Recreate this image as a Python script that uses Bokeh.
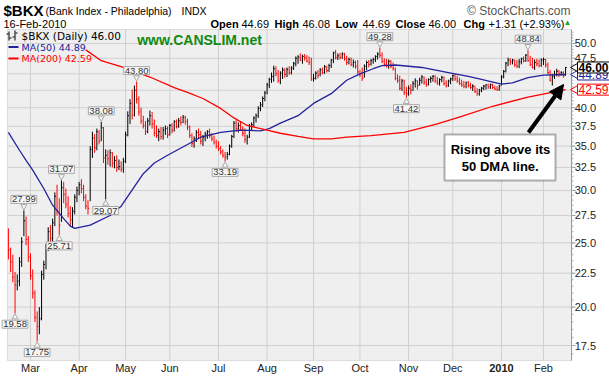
import math
from bokeh.plotting import figure
from bokeh.models import Range1d, Label, Arrow, NormalHead, BoxAnnotation, ColumnDataSource
from bokeh.core.properties import value
from bokeh.embed import file_html
from bokeh.resources import INLINE

# ---------------- data ----------------
# daily bars, 13-Feb-2009 .. 16-Feb-2010 (trading-day index)
highs = [
    26.3, 24.6, 24.0, 22.6, 22.4, 23.8, 25.5, 27.99, 27.4, 25.6,  # Feb
    24.1, 22.8, 21.2, 19.7, 20.0, 22.7, 23.5, 24.9, 26.4, 26.6, 27.2, 29.8, 30.6, 29.2, 31.07, 30.9, 30.2, 29.4, 28.4, 28.3, 29.6, 30.4,  # Mar
    30.9, 31.2, 30.6, 29.6, 29.0, 35.0, 36.8, 36.5, 37.2, 37.0, 38.08, 37.4, 34.6, 34.5, 34.6, 34.3, 33.8, 33.9, 33.4, 33.2, 33.6,  # Apr
    36.8, 39.5, 41.2, 42.6, 43.2, 43.80, 41.6, 40.0, 38.9, 38.2, 38.6, 39.6, 39.4, 38.4, 37.6, 37.2, 37.4, 37.4, 37.6, 37.5,  # May
    37.8, 37.9, 38.3, 38.4, 38.6, 38.8, 39.0, 38.9, 38.5, 37.6, 36.6, 36.2, 37.0, 37.2, 36.9, 36.4, 36.8, 37.0, 37.2, 36.6, 36.3, 35.8,  # Jun
    35.6, 35.0, 34.6, 34.3, 34.3, 35.2, 36.4, 38.2, 38.3, 38.0, 38.2, 37.5, 37.2, 36.4, 37.8, 38.0, 38.8, 39.2, 40.2, 40.8, 41.6, 42.4,  # Jul
    43.6, 44.4, 45.2, 46.3, 46.2, 45.6, 45.4, 46.0, 45.9, 46.0, 46.2, 46.2, 46.9, 47.8, 48.0, 48.3, 48.1, 48.2, 48.0, 47.8, 47.6,  # Aug
    45.0, 45.4, 45.6, 45.9, 46.0, 46.4, 46.3, 46.6, 47.4, 48.6, 48.9, 48.3, 48.4, 48.5, 48.4, 47.9, 47.6, 47.6, 47.3, 47.1, 47.2,  # Sep
    45.6, 46.0, 46.5, 47.1, 47.2, 47.4, 47.6, 48.0, 48.5, 49.28, 48.5, 47.5, 47.4, 47.3, 47.2, 46.8, 46.0, 44.9, 44.7, 44.2, 44.1, 43.0,  # Oct
    43.2, 43.4, 43.9, 44.3, 44.0, 44.4, 44.8, 44.6, 44.2, 44.3, 44.6, 44.8, 44.8, 44.5, 44.3, 44.7, 44.6, 44.0, 44.1, 44.4,  # Nov
    44.9, 45.0, 44.7, 44.4, 44.1, 43.9, 43.8, 43.9, 43.6, 43.4, 43.2, 42.8, 42.7, 43.0, 43.3, 43.4, 43.5, 43.5, 43.5, 43.2, 43.1, 43.3,  # Dec
    44.8, 45.6, 46.9, 47.6, 47.5, 47.4, 47.3, 47.2, 47.4, 47.6, 47.8, 48.2, 48.84, 47.9, 47.6, 47.3, 47.4, 47.3, 47.5,  # Jan
    47.6, 47.4, 46.8, 45.6, 45.0, 45.5, 45.8, 45.6, 45.4, 45.4, 46.08,  # Feb
]
lows = [
    23.6, 22.6, 21.8, 19.58, 21.2, 21.5, 23.0, 25.6, 24.8, 23.4,
    22.0, 20.6, 19.0, 17.75, 18.2, 19.1, 22.0, 22.8, 24.3, 25.0, 25.0, 26.5, 27.5, 25.71, 26.9, 28.7, 28.2, 27.3, 26.5, 26.4, 27.6, 28.8,
    29.5, 29.7, 28.9, 28.1, 27.6, 28.9, 33.6, 34.2, 34.5, 35.2, 35.6, 33.0, 29.07, 32.8, 32.6, 32.5, 32.4, 32.0, 32.2, 32.0, 31.9,
    33.0, 36.2, 37.8, 38.4, 38.8, 40.6, 38.9, 37.8, 37.2, 36.4, 36.6, 37.6, 37.2, 36.2, 36.0, 35.6, 35.8, 35.8, 36.4, 36.0,
    36.3, 36.6, 36.8, 37.2, 37.3, 37.6, 37.9, 37.7, 37.0, 36.0, 34.9, 34.8, 35.5, 35.9, 35.2, 35.0, 35.6, 35.9, 36.0, 35.6, 35.2, 34.7,
    34.4, 34.0, 33.6, 33.19, 33.4, 33.9, 34.8, 36.0, 36.8, 36.7, 36.9, 36.2, 35.4, 35.2, 36.0, 36.9, 37.4, 38.0, 38.6, 39.5, 40.1, 40.9,
    41.9, 42.8, 43.6, 43.8, 44.6, 43.6, 43.4, 44.2, 44.4, 44.5, 44.8, 44.9, 45.6, 46.2, 46.6, 47.0, 46.6, 47.1, 46.8, 46.4, 43.9,
    43.8, 44.1, 44.3, 44.6, 44.9, 45.0, 45.2, 45.3, 45.9, 46.7, 47.3, 47.2, 47.3, 47.4, 47.1, 46.4, 46.5, 46.2, 46.0, 45.8, 44.9,
    44.5, 43.9, 44.4, 45.6, 46.0, 46.3, 46.6, 46.9, 47.3, 47.6, 46.7, 46.2, 46.0, 45.8, 45.9, 45.5, 44.0, 43.6, 42.5, 42.4, 41.8, 41.42,
    41.7, 41.9, 42.4, 42.9, 42.6, 43.2, 43.5, 43.3, 43.0, 43.2, 43.6, 43.8, 43.6, 43.3, 43.2, 43.7, 43.2, 42.9, 43.0, 43.4,
    43.9, 43.9, 43.6, 43.3, 43.0, 42.8, 42.8, 42.9, 42.7, 42.4, 42.1, 41.7, 41.7, 42.2, 42.5, 42.6, 42.7, 42.7, 42.7, 42.5, 42.4, 42.4,
    43.2, 44.3, 45.2, 46.2, 46.4, 46.5, 46.1, 45.9, 45.9, 46.5, 46.8, 46.9, 46.9, 46.2, 45.8, 45.6, 46.2, 46.0, 46.1,
    46.4, 46.0, 44.9, 43.8, 43.2, 44.2, 44.6, 44.5, 44.7, 44.4, 44.69,
]
closes = [
    24.4, 23.4, 22.2, 21.6, 21.9, 23.4, 25.1, 27.0, 25.3, 23.8,
    22.3, 21.0, 19.3, 18.7, 19.2, 22.4, 23.2, 24.6, 26.0, 25.4, 26.8, 29.4, 27.9, 26.6, 30.3, 29.6, 28.6, 27.7, 27.1, 27.9, 29.3, 30.0,
    30.6, 30.2, 29.3, 28.4, 28.2, 34.6, 36.0, 34.8, 36.8, 35.6, 37.3, 33.6, 33.9, 33.5, 34.2, 33.0, 33.3, 32.5, 32.6, 32.3, 33.2,
    36.4, 38.9, 40.6, 39.0, 42.5, 41.2, 39.4, 38.2, 37.6, 36.8, 38.2, 38.9, 37.8, 36.6, 36.3, 36.8, 36.2, 37.0, 37.2, 36.4,
    37.6, 37.0, 38.1, 37.5, 38.2, 38.0, 38.7, 38.1, 37.4, 36.3, 35.3, 35.9, 36.7, 36.4, 35.6, 36.1, 36.5, 36.8, 36.3, 35.9, 35.5, 35.0,
    34.7, 34.3, 33.9, 33.7, 34.0, 35.0, 36.2, 37.9, 37.2, 37.6, 37.0, 36.6, 35.8, 36.1, 37.5, 37.7, 38.6, 38.9, 39.9, 40.4, 41.3, 42.1,
    43.3, 44.1, 44.6, 45.8, 45.0, 44.0, 45.1, 45.6, 44.9, 45.7, 45.2, 45.9, 46.6, 47.5, 47.7, 47.2, 47.8, 47.6, 47.0, 46.8, 44.2,
    44.3, 45.1, 44.8, 45.6, 45.2, 46.1, 45.5, 46.3, 47.2, 48.4, 47.6, 47.9, 47.6, 48.2, 47.4, 46.8, 47.3, 46.5, 46.8, 46.2, 45.3,
    45.0, 44.3, 46.2, 46.8, 46.5, 47.1, 47.3, 47.8, 48.2, 48.0, 47.0, 46.5, 46.3, 47.0, 46.2, 45.8, 44.3, 44.0, 42.8, 43.9, 42.2, 42.0,
    42.8, 42.5, 43.5, 43.9, 43.2, 44.0, 44.5, 43.7, 43.4, 44.1, 44.3, 44.6, 43.9, 43.6, 44.1, 44.4, 43.5, 43.2, 43.9, 44.2,
    44.7, 44.2, 43.9, 43.5, 43.3, 43.1, 43.6, 43.2, 42.9, 43.1, 42.3, 42.0, 42.5, 42.8, 43.1, 43.3, 43.0, 43.3, 42.9, 42.7, 42.6, 43.1,
    44.5, 45.4, 46.7, 47.2, 46.9, 47.2, 46.4, 46.2, 46.9, 47.4, 47.1, 48.0, 47.1, 46.5, 46.0, 46.8, 46.6, 46.3, 47.2,
    47.3, 46.4, 45.2, 44.0, 44.6, 44.9, 45.4, 45.0, 45.2, 44.69, 46.00,
]

ma50_x = [0, 5, 8, 11, 16, 20, 25, 28, 30, 37, 46, 51, 57, 61, 66, 72, 81, 87, 96, 105,
          114, 118, 123, 131, 138, 146, 153, 159, 165, 169, 175, 187, 199, 208, 213, 223, 228, 235, 242, 252]
ma50_v = [36.7, 34.5, 33.3, 32.2, 30.2, 28.5, 27.2, 26.5, 26.3, 26.6, 27.5, 28.4, 30.4, 31.8, 33.0, 33.9, 35.2, 36.1, 36.7, 37.0,
          36.9, 37.2, 37.9, 38.9, 40.6, 42.0, 44.0, 45.0, 45.8, 46.3, 46.4, 46.0, 45.2, 44.6, 44.2, 43.4, 43.6, 44.4, 44.8, 44.89]
ma200_x = [35, 42, 52, 64, 75, 81, 88, 96, 102, 108, 117, 123, 131, 138, 146, 153, 164, 179, 194, 205, 219, 235, 252]
ma200_v = [48.9, 47.1, 46.0, 44.5, 42.9, 42.2, 41.3, 39.9, 38.6, 37.6, 37.0, 36.6, 36.2, 35.9, 35.9, 36.1, 36.3, 36.7,
           37.8, 38.8, 40.2, 41.5, 42.59]

month_ticks = [10, 32, 53, 73, 95, 117, 138, 159, 181, 201, 223, 242]
month_names = ["Mar", "Apr", "May", "Jun", "Jul", "Aug", "Sep", "Oct", "Nov", "Dec", "2010", "Feb"]
y_ticks = [17.5, 20.0, 22.5, 25.0, 27.5, 30.0, 32.5, 35.0, 37.5, 40.0, 42.5, 45.0, 47.5, 50.0]
y_minor = [v / 2 for v in range(34, 105)]

# marked extremes: (bar index, "H" high / "L" low)
marks = [(7, "H"), (3, "L"), (13, "L"), (23, "L"), (24, "H"), (42, "H"), (44, "L"),
         (58, "H"), (98, "L"), (168, "H"), (180, "L"), (235, "H")]

# ---------------- layout constants ----------------
FONT = "Liberation Sans"
W, H = 609, 376
X0, X1 = -3.573, 271.87           # data x at canvas left/right
Y0, Y1 = 15.713, 58.06            # data y at canvas bottom/top (log)
PL, PR, PB, PT = -0.41, 254.7, 16.61, 52.49   # price panel edges
K = 287.7                          # px per ln unit

def ypx(yc):
    """data y for a canvas pixel row"""
    return 50.0 * math.exp(-(yc - 43) / K)

n = len(closes)
idx = list(range(n))
colors = ["#FF0000" if (i == 0 or closes[i] < closes[i - 1]) else "#000000" for i in idx]

p = figure(width=W, height=H, y_axis_type="log",
           x_range=Range1d(X0, X1), y_range=Range1d(Y0, Y1),
           output_backend="svg", toolbar_location=None, min_border=0)
p.axis.visible = False
p.grid.visible = False
p.outline_line_color = None
p.background_fill_color = "white"
p.border_fill_color = "white"

# panel background
p.add_layout(BoxAnnotation(left=PL, right=PR, bottom=PB, top=PT, fill_color="#EFEFEF",
                           fill_alpha=1, line_color="#A0A0A0", line_width=1, level="underlay"))
# grid
p.segment(x0=month_ticks, y0=[PB] * len(month_ticks), x1=month_ticks, y1=[PT] * len(month_ticks),
          line_color="#D0D0D0", line_width=1)
p.segment(x0=[PL] * len(y_ticks), y0=y_ticks, x1=[PR] * len(y_ticks), y1=y_ticks,
          line_color="#D0D0D0", line_width=1)
# right axis
p.segment(x0=[PR], y0=[PB], x1=[PR], y1=[PT], line_color="#7F9F9F", line_width=1)
p.segment(x0=[PR] * len(y_ticks), y0=y_ticks, x1=[PR + 1.8] * len(y_ticks), y1=y_ticks,
          line_color="#7F9F9F", line_width=1)
p.segment(x0=[PR] * len(y_minor), y0=y_minor, x1=[PR + 0.9] * len(y_minor), y1=y_minor,
          line_color="#9FB5B5", line_width=1)
p.text(x=[PR + 1.4] * len(y_ticks), y=y_ticks, text=[f"{v:.1f}" for v in y_ticks],
       text_align="left", text_baseline="middle", text_font=value(FONT),
       text_font_size="11px", text_color="#222222")
# month labels
my = ypx(367.5)
norm = [(t, nm) for t, nm in zip(month_ticks, month_names) if nm != "2010"]
bold = [(t, nm) for t, nm in zip(month_ticks, month_names) if nm == "2010"]
p.text(x=[t for t, _ in norm], y=[my] * len(norm), text=[nm for _, nm in norm],
       text_align="center", text_baseline="middle", text_font=value(FONT),
       text_font_size="11px", text_color="#222222")
p.text(x=[t for t, _ in bold], y=[my] * len(bold), text=[nm for _, nm in bold],
       text_align="center", text_baseline="middle", text_font=value(FONT),
       text_font_size="11px", text_font_style="bold", text_color="#222222")

# price bars
src = ColumnDataSource(dict(x=idx, xr=[i + 0.55 for i in idx], high=highs, low=lows,
                            close=closes, color=colors))
p.segment(x0="x", y0="low", x1="x", y1="high", line_color="color", line_width=1, source=src)
p.segment(x0="x", y0="close", x1="xr", y1="close", line_color="color", line_width=1, source=src)

# moving averages
p.line(ma50_x, ma50_v, line_color="#22229C", line_width=1.3)
p.line(ma200_x, ma200_v, line_color="#FF0000", line_width=1.3)

# extreme value labels with little pointers
for i, kind in marks:
    val = highs[i] if kind == "H" else lows[i]
    up = kind == "H"
    p.scatter([i], [val * math.exp((4 if up else -4) / K)],
              marker=("inverted_triangle" if up else "triangle"), size=6,
              fill_color="#F7F7F7", line_color="#A8A8A8")
    p.add_layout(Label(x=i, y=val, y_offset=(11 if up else -11), text=f"{val:.2f}",
                       text_align="center", text_baseline="middle", text_font=FONT,
                       text_font_size="9.5px", text_color="#333333",
                       background_fill_color="#F7F7F7", border_line_color="#A8A8A8",
                       padding=1))

# right side price tags
for val, col, bld in [(ma50_v[-1], "#22229C", False), (ma200_v[-1], "#FF0000", False),
                      (closes[-1], "#000000", True)]:
    p.scatter([PR + 1.9], [val], marker="triangle", angle=math.pi / 2, size=9,
              fill_color="white", line_color=col)
    p.add_layout(Label(x=577, x_units="screen", y=val, text=f"{val:.2f}",
                       text_align="left", text_baseline="middle", text_font=FONT,
                       text_font_size="12px", text_font_style=("bold" if bld else "normal"),
                       text_color=col, background_fill_color="white",
                       border_line_color=col, padding=1))

def L(xc, yc, text, size="11px", style="normal", color="#000000", align="left", font=FONT):
    # canvas pixel positions -> screen units (y from bottom)
    p.add_layout(Label(x=xc, y=H - yc, x_units="screen", y_units="screen", text=text,
                       text_align=align, text_baseline="middle", text_font=font,
                       text_font_size=size, text_font_style=style, text_color=color))

def B(l, r, top, bot, color):
    # small filled box in canvas pixels
    p.add_layout(BoxAnnotation(left=l, right=r, bottom=H - bot, top=H - top,
                               left_units="screen", right_units="screen", top_units="screen",
                               bottom_units="screen", fill_color=color, fill_alpha=1,
                               line_color=None))

# header
L(3, 10, "$BKX", size="15px", style="bold")
L(45, 10, "(Bank Index - Philadelphia)", size="10.5px")
L(181, 10, "INDX", size="10.5px")
L(570, 10, "\u00a9 StockCharts.com", size="12px", color="#555555", align="right")
L(3, 23, "16-Feb-2010", size="11px")
hdr = [(210, "Open", True), (241, "44.69", False), (274, "High", True), (302, "46.08", False),
       (335, "Low", True), (362, "44.69", False), (395, "Close", True), (428, "46.00", False),
       (463, "Chg", True), (488, "+1.31 (+2.93%)", False)]
for xc, t, b in hdr:
    L(xc, 23, t, size="11px", style=("bold" if b else "normal"))
L(563, 22, "\u25b2", size="8px", color="#22AA22")

# in-plot legend
B(8, 9, 31, 40, "#000000")          # tiny bar-chart icon
B(6, 8, 33, 34, "#000000")
B(9, 11, 37, 38, "#000000")
B(14, 15, 30, 40, "#000000")
B(12, 14, 36, 37, "#000000")
B(15, 17, 32, 33, "#000000")
L(21, 35, "$BKX (Daily) 46.00", size="10.5px", font="DejaVu Sans")
B(8, 18, 45.5, 47.5, "#22229C")
L(21, 46.5, "MA(50) 44.89", size="9.5px", color="#22229C", font="DejaVu Sans")
B(8, 18, 57, 59, "#FF0000")
L(21, 58, "MA(200) 42.59", size="9.5px", color="#FF0000", font="DejaVu Sans")
L(199, 39, "www.CANSLIM.net", size="14px", style="bold", color="#128A12", align="center")

# callout
p.add_layout(BoxAnnotation(left=444, right=555, top=H - 134, bottom=H - 180,
                           left_units="screen", right_units="screen", top_units="screen",
                           bottom_units="screen", fill_color="white", fill_alpha=1,
                           line_color="black", line_width=2))
L(500, 149, "Rising above its", size="13px", style="bold", align="center")
L(500, 166, "50 DMA line.", size="13px", style="bold", align="center")
p.add_layout(Arrow(x_start=528, y_start=H - 132, x_end=563, y_end=H - 84,
                   start_units="screen", end_units="screen", line_width=4, line_color="black",
                   end=NormalHead(size=14, fill_color="black", line_color="black")))

open("out.html", "w").write(file_html(p, INLINE))
